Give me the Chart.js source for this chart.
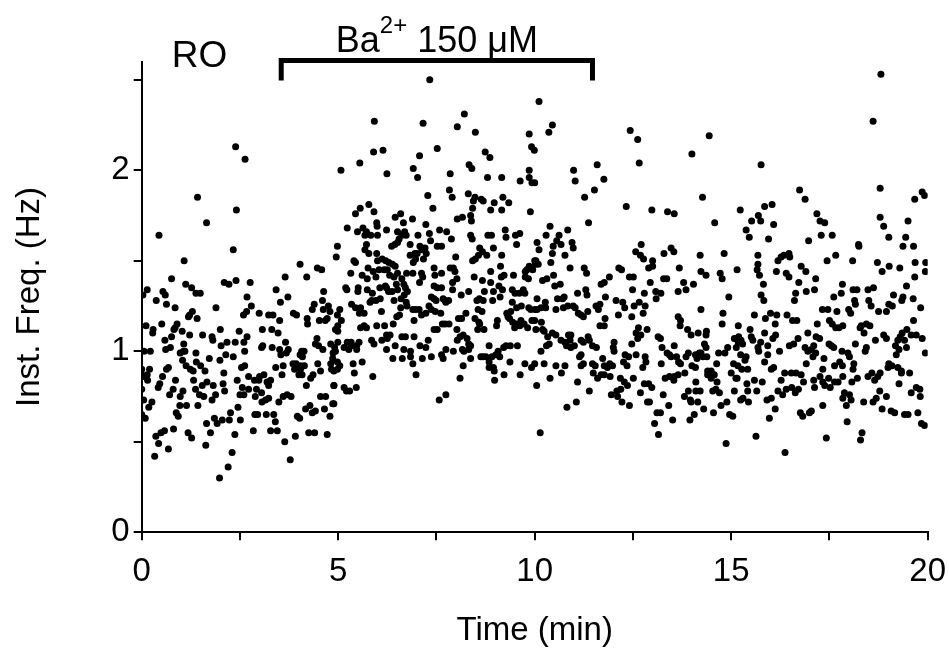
<!DOCTYPE html>
<html>
<head>
<meta charset="utf-8">
<script src="https://cdn.jsdelivr.net/npm/chart.js@4.4.1/dist/chart.umd.min.js"></script>
<style>
  html, body { margin: 0; padding: 0; background: #fff; }
  canvas { display: block; }
</style>
</head>
<body>
<canvas id="chart" width="949" height="651"></canvas>
<script>
// Spike instantaneous frequency (Hz) against time (min)
// in four 5-min windows. Each entry is [time, freq].
const min0to5 = [
  [2.39,2.13],[2.63,2.06],[1.42,1.85],[2.41,1.78],
  [1.65,1.71],[0.44,1.64],[2.33,1.56],[1.08,1.50],[0.76,1.40],[1.12,1.37],[1.27,1.35],[1.38,1.32],[1.49,1.32],[2.10,1.38],[2.22,1.37],[2.40,1.39],[2.76,1.38],[3.65,1.41],[4.03,1.48],[4.20,1.41],[4.47,1.46],[4.58,1.45],
  [0.14,1.34],[0.03,1.31],[0.54,1.33],[0.60,1.31],[0.37,1.28],[0.63,1.26],[0.85,1.24],[1.89,1.24],[2.68,1.30],[2.79,1.25],[3.42,1.34],[3.72,1.30],[3.53,1.27],[4.63,1.33],[4.39,1.26],[4.34,1.23],[4.60,1.28],[4.62,1.23],[4.75,1.25],[4.79,1.22],[4.72,1.18],[4.67,1.17],[4.52,1.17],
  [1.29,1.22],[1.22,1.20],[1.19,1.19],[1.41,1.18],[2.59,1.20],[2.67,1.22],[2.99,1.21],[3.23,1.20],[3.34,1.20],[3.51,1.17],[3.86,1.21],[3.94,1.20],[4.21,1.18],[4.22,1.15],
  [0.11,1.14],[0.29,1.12],[0.28,1.10],[0.51,1.15],[0.90,1.15],[0.85,1.13],[0.82,1.12],[1.03,1.11],[1.22,1.09],[1.55,1.09],[1.79,1.08],[1.81,1.06],[2.00,1.12],[0.76,1.08],[0.59,1.06],[0.73,1.02],[0.61,1.01],[1.07,1.04],[1.06,1.00],[0.98,0.99],[1.10,1.00],[1.38,0.99],[1.72,0.96],[2.02,1.03],[2.14,0.98],[2.17,1.05],[2.38,1.05],[2.60,1.05],[2.68,1.08],[2.48,1.11],[2.33,0.97],[2.62,1.00],[3.07,1.12],[3.31,1.12],[3.47,1.10],[3.08,1.03],[3.05,1.02],[3.32,1.02],[3.51,1.01],[3.54,0.98],[3.68,0.99],[3.66,1.05],[3.73,1.01],[4.07,1.00],[4.13,1.00],[4.09,0.97],[4.03,0.98],[4.46,1.07],[4.42,1.04],[4.50,1.03],[4.61,1.01],[4.81,1.04],[4.87,0.99],[4.93,1.00],[4.86,0.96],
  [0.06,1.00],[0.22,1.00],[0.00,0.90],[0.20,0.90],[1.39,0.94],[1.04,0.95],[1.13,0.92],[1.24,0.90],[1.31,0.89],[1.50,0.92],[1.61,0.89],[0.68,0.91],[0.63,0.90],[2.62,0.92],[2.54,0.91],[1.99,0.95],[3.41,0.91],[3.60,0.92],[3.85,0.93],[3.93,0.93],[3.95,0.91],[3.89,0.90],[4.04,0.90],[4.14,0.92],[4.05,0.92],[4.48,0.93],[4.55,0.89],[4.81,0.93],[4.83,0.90],
  [2.09,0.88],[0.00,0.87],[0.14,0.87],[0.15,0.84],[0.05,0.86],[0.53,0.86],[0.86,0.84],[1.32,0.84],[1.37,0.79],[1.54,0.81],[1.66,0.83],[1.82,0.81],[0.00,0.79],[0.42,0.80],[0.46,0.82],[0.80,0.79],[0.71,0.76],[0.98,0.75],[1.05,0.78],[1.47,0.76],[1.58,0.75],[1.88,0.76],[1.79,0.73],[2.07,0.82],[2.11,0.78],[2.43,0.84],[2.56,0.80],[2.50,0.76],[2.60,0.76],[2.72,0.86],[2.87,0.84],[2.98,0.84],[3.11,0.87],[3.00,0.86],[2.72,0.79],[2.92,0.79],[3.05,0.77],[2.89,0.75],[3.06,0.72],[3.15,0.73],[3.23,0.74],[3.19,0.83],[3.28,0.84],[3.23,0.81],[3.57,0.87],[3.49,0.72],[3.60,0.75],[3.70,0.76],[3.80,0.75],[4.00,0.87],[4.08,0.87],[4.36,0.87],[4.19,0.81],[4.30,0.85],[4.55,0.75],[4.68,0.75],[4.89,0.81],
  [0.05,0.73],[0.26,0.72],[0.18,0.69],[0.00,0.65],[0.09,0.63],[0.97,0.70],[1.14,0.70],[1.43,0.70],[0.88,0.66],[0.93,0.64],[1.65,0.60],[1.75,0.55],[1.85,0.63],[1.92,0.60],[2.05,0.62],[2.26,0.66],[2.23,0.62],[2.45,0.69],[2.51,0.62],[2.37,0.54],[2.30,0.44],[2.20,0.36],[1.98,0.30],[1.63,0.48],[1.27,0.52],[1.18,0.55],[0.81,0.57],[0.58,0.56],[0.49,0.55],[0.36,0.53],[0.43,0.49],[0.68,0.46],[0.33,0.42],[2.84,0.56],[2.88,0.65],[2.95,0.65],[3.17,0.65],[3.36,0.65],[3.40,0.61],[3.45,0.56],[3.28,0.56],[3.64,0.50],[3.91,0.53],[3.78,0.40],[3.96,0.64],[4.02,0.63],[4.17,0.68],[4.28,0.70],[4.42,0.67],[4.34,0.66],[4.25,0.55],[4.40,0.55],[4.65,0.68],[4.79,0.64],[4.86,0.71],[4.72,0.54]
];

const min5to10 = [
  [7.33,2.50],[5.92,2.27],[7.16,2.26],[8.21,2.31],[8.03,2.24],[8.49,2.21],[9.86,2.20],[9.92,2.13],[9.99,2.11],[7.52,2.12],[7.07,2.08],[5.90,2.10],[6.14,2.11],[5.55,2.04],[5.07,2.00],[6.24,1.98],[6.91,2.01],[7.02,1.96],[7.85,1.98],[8.33,2.03],[8.40,2.01],[8.74,2.10],[8.86,2.07],[8.80,1.96],[9.16,1.96],[9.63,1.94],[9.86,2.00],[9.86,1.96],[9.93,1.93],[10.00,1.93],[7.28,1.86],[7.83,1.89],[7.90,1.85],[8.31,1.87],[8.48,1.85],[8.44,1.83],[8.64,1.84],[8.69,1.83],[8.97,1.82],[9.19,1.85],[9.34,1.82],[7.41,1.79],[5.56,1.79],[5.78,1.81],[5.91,1.77],[5.44,1.76],[6.59,1.76],[8.42,1.79],[8.88,1.78],[9.16,1.78],[9.89,1.77],
  [6.45,1.74],[6.66,1.71],[6.89,1.73],[5.98,1.71],[5.99,1.69],[7.23,1.70],[8.16,1.74],[8.03,1.73],[8.37,1.75],[8.39,1.72],[5.23,1.68],[5.49,1.66],[5.63,1.68],[5.72,1.66],[5.68,1.64],[5.83,1.64],[6.00,1.64],[6.23,1.67],[6.51,1.66],[6.62,1.64],[6.55,1.62],[6.69,1.66],[6.73,1.64],[7.03,1.64],[7.32,1.65],[7.58,1.67],[7.76,1.66],[7.88,1.62],[8.37,1.64],[8.41,1.62],[8.81,1.64],[8.90,1.64],[9.25,1.67],[9.27,1.63],[9.51,1.64],[9.62,1.65],
  [4.98,1.58],[4.95,1.52],[5.72,1.59],[5.68,1.56],[5.78,1.54],[5.98,1.54],[6.36,1.58],[6.44,1.59],[6.51,1.60],[6.83,1.59],[7.08,1.58],[7.13,1.56],[6.95,1.54],[7.01,1.54],[7.21,1.57],[7.35,1.61],[7.52,1.58],[7.63,1.58],[7.24,1.54],[7.17,1.51],[6.97,1.51],[6.91,1.49],[6.83,1.53],[6.00,1.50],[6.12,1.51],[6.21,1.50],[6.29,1.49],[6.38,1.48],[6.45,1.47],[5.40,1.50],[5.44,1.49],[8.60,1.57],[8.67,1.55],[8.57,1.53],[8.78,1.53],[8.95,1.57],[9.16,1.53],[9.54,1.59],[7.99,1.52],[8.42,1.50],[8.49,1.51],[10.00,1.50],[10.02,1.48],[9.86,1.47],[9.80,1.45],
  [5.32,1.43],[5.61,1.42],[5.76,1.46],[5.89,1.44],[5.96,1.41],[5.74,1.40],[6.04,1.45],[6.17,1.45],[6.25,1.45],[6.31,1.42],[6.42,1.41],[6.51,1.43],[6.74,1.43],[6.90,1.43],[7.12,1.43],[7.15,1.41],[7.07,1.38],[7.44,1.46],[7.46,1.42],[7.63,1.43],[7.85,1.46],[7.93,1.46],[7.97,1.44],[8.02,1.40],[7.91,1.38],[8.46,1.41],[8.67,1.39],[8.88,1.38],[8.88,1.44],[9.13,1.47],[9.15,1.41],[9.22,1.42],[9.46,1.42],[9.76,1.44],[9.76,1.41],[9.84,1.40],[9.95,1.45],
  [5.22,1.34],[5.19,1.35],[5.51,1.35],[5.50,1.33],[5.74,1.34],[5.87,1.32],[6.06,1.35],[6.20,1.36],[6.23,1.35],[6.28,1.33],[6.37,1.33],[6.51,1.34],[6.62,1.40],[6.67,1.37],[6.71,1.35],[6.76,1.33],[6.48,1.37],[7.52,1.35],[7.63,1.35],[7.44,1.36],[7.91,1.34],[8.32,1.33],[8.72,1.33],[8.95,1.33],[9.09,1.36],[9.18,1.34],[9.43,1.34],[9.50,1.32],[9.61,1.32],[9.71,1.34],[9.75,1.32],
  [5.34,1.26],[5.44,1.24],[5.57,1.24],[5.85,1.28],[5.96,1.28],[5.81,1.27],[6.07,1.29],[6.42,1.28],[6.60,1.29],[6.68,1.31],[6.73,1.27],[6.75,1.25],[6.59,1.24],[7.37,1.30],[7.44,1.29],[7.49,1.28],[7.67,1.29],[7.72,1.28],[7.74,1.27],[7.81,1.28],[8.13,1.31],[8.53,1.28],[8.59,1.29],[8.69,1.28],[8.56,1.23],[8.66,1.22],[8.93,1.28],[9.12,1.30],[9.43,1.27],[9.66,1.25],[9.85,1.24],[9.54,1.24],[9.39,1.22],[9.29,1.21],[9.90,1.23],[10.01,1.23],
  [5.04,1.23],[4.98,1.20],[5.08,1.17],[5.54,1.21],[5.66,1.21],[6.10,1.22],[6.56,1.20],[6.49,1.19],[6.90,1.23],[6.97,1.23],[7.06,1.23],[7.12,1.20],[7.23,1.21],[7.31,1.25],[7.37,1.23],[7.47,1.22],[7.61,1.21],[8.06,1.18],[8.14,1.18],[8.25,1.21],[8.48,1.18],[8.58,1.16],[8.60,1.15],[9.05,1.17],[9.32,1.19],[9.36,1.18],[9.44,1.16],[9.54,1.15],[9.65,1.17],[9.73,1.15],[9.93,1.17],
  [4.99,1.14],[4.93,1.12],[4.99,1.11],[5.57,1.13],[5.66,1.14],[5.72,1.13],[5.98,1.14],[6.18,1.14],[6.40,1.15],[6.93,1.17],[7.65,1.15],[7.72,1.15],[7.82,1.15],[7.44,1.12],[7.52,1.12],[8.02,1.12],[8.10,1.08],[8.03,1.06],[8.18,1.09],[8.28,1.07],[8.32,1.04],[8.37,1.03],[8.32,1.01],[8.55,1.12],[8.71,1.12],[9.03,1.14],[9.49,1.13],[9.62,1.14],[9.82,1.13],[10.03,1.12],
  [4.91,1.02],[4.99,1.05],[5.23,1.05],[5.33,1.05],[5.15,1.02],[5.33,1.03],[5.47,1.03],[5.53,1.05],[5.27,1.01],[5.47,1.01],[5.85,1.06],[5.91,1.04],[6.11,1.06],[6.23,1.09],[6.25,1.07],[6.32,1.09],[6.62,1.08],[6.71,1.08],[6.93,1.08],[6.45,1.03],[6.67,1.01],[6.23,1.01],[6.84,1.00],[7.08,1.03],[7.23,1.02],[7.29,1.06],[7.37,0.97],[7.74,1.01],[7.93,1.00],[8.16,1.01],[8.20,1.00],[8.84,1.03],[9.21,1.02],[9.27,1.03],[9.38,1.03],[9.56,1.03],[9.07,1.00],[9.01,0.98],[9.11,0.97],[9.37,0.94],
  [8.63,0.97],[8.69,0.97],[8.76,0.97],[8.91,0.97],[8.84,0.94],[8.95,0.91],[8.84,0.91],[8.97,0.89],[4.98,0.94],[5.04,0.92],[4.98,0.90],[5.38,0.93],[5.61,0.94],[6.39,0.96],[6.63,0.96],[6.84,0.97],[6.90,0.93],[7.14,0.96],[7.63,0.98],[7.67,0.96],[8.18,0.92],[9.75,0.93],[9.92,0.91],[10.00,0.93],[8.37,0.96],
  [4.89,0.89],[5.41,0.88],[5.88,0.86],[6.98,0.87],[8.10,0.85],[9.22,0.87],[9.63,0.87],[4.89,0.81],[5.15,0.80],[5.21,0.78],[5.29,0.78],[5.46,0.80],[4.89,0.71],[8.98,0.84],[7.57,0.73],[7.74,0.76]
];

const min10to15 = [
  [10.11,2.38],[10.45,2.25],[10.36,2.21],[12.43,2.22],[12.62,2.17],[12.66,2.04],[11.59,2.03],[10.99,2.00],[11.03,1.94],[11.76,1.95],[11.52,1.89],[11.27,1.85],[12.33,1.80],[12.98,1.78],[13.38,1.77],[13.55,1.76],[14.00,2.09],[14.44,2.19],[14.27,1.85],
  [11.37,1.71],[14.58,1.71],[10.39,1.69],[10.84,1.67],[10.29,1.64],[10.62,1.64],[10.56,1.61],[10.47,1.58],[10.67,1.59],[10.95,1.60],[10.98,1.57],[10.77,1.53],[10.06,1.60],[10.11,1.56],[10.45,1.54],[10.03,1.50],[10.09,1.48],[10.41,1.49],
  [12.71,1.59],[12.57,1.55],[12.69,1.53],[12.77,1.51],[13.00,1.50],[12.90,1.46],[13.00,1.47],[13.29,1.54],[13.47,1.57],[13.54,1.55],[13.68,1.46],[14.21,1.53],[14.82,1.54],[14.23,1.44],[14.36,1.42],[14.72,1.43],[14.77,1.40],
  [10.90,1.46],[11.26,1.46],[11.32,1.43],[12.14,1.46],[12.21,1.45],[10.48,1.42],[10.20,1.39],[10.31,1.40],[10.51,1.36],[10.65,1.37],[11.90,1.41],[11.69,1.37],[11.77,1.38],[12.41,1.41],[12.51,1.41],[12.94,1.38],[13.28,1.40],[13.36,1.40],[13.79,1.38],[14.04,1.37],[13.65,1.33],[13.85,1.34],
  [11.09,1.32],[11.30,1.34],[11.33,1.31],[12.49,1.34],[12.79,1.32],[13.08,1.33],[13.21,1.32],[13.09,1.29],[14.94,1.30],[10.06,1.29],[10.27,1.27],[10.58,1.29],[10.71,1.29],[10.75,1.30],[10.73,1.24],[10.84,1.25],[10.98,1.25],[11.03,1.24],[10.06,1.23],[10.16,1.24],[10.28,1.24],
  [11.80,1.30],[11.56,1.25],[11.66,1.26],[11.62,1.23],[12.07,1.28],[12.24,1.27],[12.29,1.24],[12.53,1.25],[12.66,1.27],[12.81,1.25],[11.35,1.22],[14.23,1.23],[14.79,1.21],[11.11,1.21],[11.24,1.19],[11.18,1.20],[10.54,1.23],[10.17,1.16],[10.00,1.17],
  [11.79,1.18],[11.66,1.14],[11.77,1.14],[12.13,1.20],[12.47,1.19],[12.76,1.21],[13.65,1.19],[13.71,1.17],[13.70,1.14],[13.89,1.12],[13.98,1.09],[14.16,1.10],[14.37,1.11],[14.36,1.09],[14.77,1.15],[15.08,1.07],
  [12.64,1.13],[12.58,1.10],[12.70,1.09],[12.62,1.07],[12.86,1.12],[10.20,1.12],[10.33,1.08],[10.24,1.11],[10.45,1.10],[10.54,1.09],[10.67,1.06],[10.77,1.05],[10.86,1.09],[10.92,1.09],[10.90,1.06],[11.01,1.03],[10.92,1.02],[10.81,1.03],[11.18,1.06],[11.24,1.05],[11.36,1.08],[11.39,1.06],[11.57,1.02],[11.47,1.03],[12.02,1.05],[12.00,1.02],[12.02,1.00],[10.37,1.04],[10.30,1.03],[10.16,1.00],
  [12.47,1.04],[13.14,1.08],[13.20,1.07],[13.24,1.02],[13.55,1.03],[13.37,0.99],[13.43,0.98],[13.47,0.97],[13.61,0.97],[13.85,0.97],[13.66,0.94],[13.71,0.93],[14.32,1.04],[14.36,1.02],[14.23,0.99],[14.28,0.97],[14.38,0.97],[14.68,0.99],[14.84,0.99],[14.91,1.02],
  [11.14,0.97],[11.18,0.98],[11.24,0.93],[11.18,0.92],[10.54,0.92],[10.77,0.92],[10.24,0.93],[11.47,0.93],[11.54,0.92],[11.73,0.96],[11.77,0.92],[11.85,0.91],[11.98,0.92],[11.91,0.93],[12.30,0.98],[12.39,0.97],[12.26,0.94],[12.35,0.92],[12.58,0.98],[12.81,0.97],[12.83,0.94],[12.75,0.91],[13.22,0.93],[13.91,0.99],[14.09,0.98],[14.13,0.96],[14.19,0.99],[14.00,0.92],[14.09,0.91],[14.63,0.93],[14.40,0.89],[14.49,0.89],[15.06,0.93],
  [10.68,0.88],[11.49,0.88],[11.69,0.87],[11.77,0.87],[11.60,0.85],[11.92,0.86],[10.05,0.81],[10.39,0.85],[11.09,0.83],[11.39,0.78],[10.82,0.69],[11.06,0.72],[10.14,0.55],
  [12.18,0.85],[12.28,0.83],[12.36,0.81],[12.19,0.79],[12.09,0.78],[11.95,0.76],[12.11,0.75],[12.22,0.72],[12.41,0.70],[12.51,0.85],[12.79,0.82],[12.90,0.82],[12.98,0.80],[12.69,0.77],[12.92,0.72],[12.87,0.72],[13.27,0.76],[13.32,0.85],[13.43,0.86],[13.55,0.86],[13.65,0.87],[13.54,0.84],
  [13.11,0.66],[13.20,0.66],[13.05,0.60],[13.15,0.54],[13.41,0.70],[13.51,0.62],[13.82,0.88],[13.81,0.75],[13.91,0.78],[13.96,0.73],[13.98,0.72],[14.10,0.83],[14.10,0.78],[14.21,0.78],[14.15,0.72],[13.95,0.62],[14.06,0.65],[14.30,0.68],
  [14.40,0.87],[14.49,0.85],[14.57,0.87],[14.64,0.83],[14.53,0.78],[14.61,0.79],[14.70,0.77],[14.55,0.66],[14.74,0.70],[14.89,0.72],[14.96,0.65],[15.04,0.64],[14.87,0.49],[15.00,0.88],[15.08,0.78],[15.12,0.85]
];

const min15to20 = [
  [18.81,2.53],[18.61,2.27],[15.76,2.03],[15.23,1.78],[15.85,1.80],[16.04,1.81],[16.74,1.89],[16.88,1.84],[18.79,1.90],[19.67,1.84],[19.86,1.88],[19.92,1.86],
  [17.18,1.76],[15.69,1.75],[15.75,1.72],[15.52,1.72],[18.79,1.74],[17.26,1.72],[17.38,1.71],[19.50,1.72],[16.08,1.70],[18.88,1.69],[15.38,1.67],[15.46,1.63],[15.95,1.62],[16.97,1.61],[17.29,1.64],[17.57,1.64],[19.01,1.63],[19.44,1.63],[18.24,1.59],[18.25,1.58],[19.37,1.58],[19.64,1.58],
  [15.68,1.53],[16.19,1.50],[16.27,1.52],[16.34,1.53],[16.47,1.54],[16.49,1.52],[17.66,1.53],[17.44,1.50],[18.09,1.50],[15.15,1.45],[15.68,1.48],[15.66,1.45],[16.15,1.44],[16.40,1.43],[16.47,1.41],[16.78,1.47],[16.90,1.44],[18.72,1.49],[18.84,1.44],[19.02,1.47],[19.29,1.46],[19.68,1.49],[19.95,1.49],[19.94,1.44],[19.67,1.41],
  [15.72,1.42],[15.82,1.37],[16.72,1.38],[17.15,1.40],[17.12,1.34],[17.83,1.37],[18.10,1.34],[18.20,1.34],[18.48,1.34],[18.62,1.35],[19.46,1.36],[15.76,1.31],[15.83,1.28],[16.64,1.32],[16.61,1.28],[16.91,1.33],[17.61,1.30],[17.80,1.32],[18.14,1.28],[18.16,1.26],[18.50,1.28],[18.56,1.25],[19.13,1.31],[19.01,1.26],[19.10,1.25],[19.37,1.30],[19.34,1.28],[19.63,1.29],[19.82,1.24],
  [17.32,1.23],[17.46,1.23],[17.69,1.22],[17.99,1.23],[18.04,1.21],[18.75,1.22],[18.95,1.22],[16.00,1.21],[16.16,1.20],[15.87,1.18],[15.59,1.20],[16.42,1.20],[16.56,1.17],[16.67,1.17],[16.12,1.15],[17.19,1.15],[17.50,1.17],[17.57,1.15],[17.66,1.13],[17.84,1.14],[17.74,1.13],
  [18.31,1.14],[18.28,1.13],[18.44,1.15],[18.53,1.14],[18.38,1.10],[19.64,1.17],[19.47,1.12],[19.58,1.09],[19.71,1.09],[19.86,1.07],[15.18,1.14],[15.48,1.12],[15.19,1.08],[15.25,1.06],[15.29,1.04],[15.18,1.05],[15.13,1.02],[15.51,1.08],[15.55,1.06],[15.85,1.10],[16.13,1.09],[16.06,1.07],[15.75,1.05],[15.93,1.03],[15.70,1.00],[15.68,1.02],[15.93,0.98],[15.38,0.97],[15.35,0.95],[15.24,0.98],[15.17,0.92],[15.85,0.94],
  [16.23,1.00],[16.48,1.03],[16.59,1.04],[16.70,1.07],[16.95,1.10],[17.16,1.08],[17.25,1.07],[16.88,1.02],[16.95,1.00],[17.04,1.01],[17.10,1.03],[17.08,0.97],[17.15,0.99],[17.36,0.96],[17.49,1.04],[17.55,1.03],[17.61,1.02],[17.82,1.00],[17.97,0.99],[18.01,0.97],[17.63,0.92],[17.76,0.94],[17.83,0.92],
  [18.16,1.04],[18.44,1.02],[18.41,1.00],[18.67,1.06],[18.88,1.09],[18.95,1.07],[19.18,1.03],[19.24,1.06],[19.30,1.08],[19.35,1.10],[19.27,1.01],[19.20,0.98],[19.41,1.06],[19.46,1.02],[19.94,0.99],[19.01,0.93],[19.09,0.92],[18.99,0.91],[19.24,0.91],[19.33,0.89],[18.12,0.93],[18.10,0.90],[17.33,0.90],[16.91,0.93],[16.08,0.91],[16.02,0.90],[15.42,0.90],[15.27,0.90],
  [15.15,0.85],[15.40,0.82],[15.42,0.78],[15.30,0.74],[15.24,0.73],[15.44,0.72],[15.59,0.84],[15.65,0.78],[15.79,0.83],[15.91,0.73],[16.02,0.74],[16.12,0.68],[15.97,0.63],[15.63,0.53],[16.37,0.44],
  [16.36,0.88],[16.53,0.88],[16.65,0.88],[16.78,0.87],[16.27,0.84],[16.19,0.78],[16.31,0.76],[16.40,0.79],[16.54,0.80],[16.63,0.77],[16.71,0.79],[16.84,0.83],[16.76,0.66],[16.82,0.64],[16.99,0.66],[17.04,0.67],
  [17.10,0.84],[17.26,0.86],[17.33,0.83],[17.38,0.81],[17.48,0.85],[17.52,0.80],[17.63,0.83],[17.72,0.83],[17.84,0.86],[17.12,0.80],[17.33,0.70],[17.42,0.52],[17.84,0.74],[17.88,0.77],[18.01,0.76],[18.05,0.73],[17.93,0.70],[17.95,0.61],[18.07,0.83],[18.21,0.85],[18.37,0.72],[18.33,0.55],[18.29,0.51],
  [18.48,0.86],[18.58,0.88],[18.65,0.84],[18.73,0.86],[18.79,0.88],[18.61,0.72],[18.69,0.74],[18.78,0.78],[18.95,0.75],[18.84,0.68],[19.07,0.67],[19.16,0.66],[19.27,0.82],[19.33,0.88],[19.54,0.88],[19.58,0.77],[19.71,0.80],[19.80,0.79],[19.81,0.75],[19.41,0.65],[19.50,0.65],[19.75,0.66],[19.84,0.60],[19.92,0.59]
];

// Axis layout
const timeMin = 0, timeMax = 20, timeStep = 2.5;
const freqMin = 0, freqMax = 2.6, freqStep = 0.5;

// Ba2+ application bar (min) and its vertical extent (Hz)
const stimStart = 3.55, stimEnd = 11.47;
const barLevel = 2.606, barLegEnd = 2.495;

const FONT = "'Liberation Sans', Arial, Helvetica, sans-serif";
const points = [...min0to5, ...min5to10, ...min10to15, ...min15to20].map(([t, f]) => ({ x: t, y: f }));

const annotate = {
  id: "annotate",
  afterDraw(chart) {
    const { ctx, scales: { x, y } } = chart;
    const x0 = x.getPixelForValue(stimStart);
    const x1 = x.getPixelForValue(stimEnd);
    const yBar = y.getPixelForValue(barLevel);
    const yLeg = y.getPixelForValue(barLegEnd);
    ctx.save();
    ctx.strokeStyle = "#000";
    ctx.lineWidth = 5;
    ctx.lineJoin = "miter";
    ctx.lineCap = "butt";
    ctx.beginPath();
    ctx.moveTo(x0, yLeg);
    ctx.lineTo(x0, yBar);
    ctx.lineTo(x1, yBar);
    ctx.lineTo(x1, yLeg);
    ctx.stroke();

    // "Ba2+ 150 μM" centred over the bar
    ctx.fillStyle = "#000";
    ctx.textBaseline = "alphabetic";
    ctx.textAlign = "left";
    const big = `36px ${FONT}`, small = `24px ${FONT}`;
    ctx.font = big;
    const wBa = ctx.measureText("Ba").width;
    const wRest = ctx.measureText(" 150 μM").width;
    ctx.font = small;
    const wSup = ctx.measureText("2+").width;
    let tx = (x0 + x1) / 2 - (wBa + wSup + wRest) / 2;
    const base = yBar - 8.5;
    ctx.font = big;
    ctx.fillText("Ba", tx, base);
    tx += wBa;
    ctx.font = small;
    ctx.fillText("2+", tx, base - 19);
    tx += wSup;
    ctx.font = big;
    ctx.fillText(" 150 μM", tx, base);

    // cell label
    ctx.font = `37px ${FONT}`;
    ctx.fillText("RO", chart.chartArea.left + 30, yBar + 6.5);
    ctx.restore();
  },
};

new Chart(document.getElementById("chart"), {
  type: "scatter",
  data: {
    datasets: [
      {
        data: points,
        backgroundColor: "#000",
        borderWidth: 0,
        pointRadius: 3.5,
        pointHoverRadius: 3.5,
      },
    ],
  },
  options: {
    responsive: false,
    animation: false,
    events: [],
    layout: { padding: { top: 61.6, right: 21.3, left: 0, bottom: 0 } },
    plugins: { legend: { display: false }, tooltip: { enabled: false } },
    scales: {
      x: {
        type: "linear",
        min: timeMin,
        max: timeMax,
        afterFit: (scale) => {
          scale.height = 118.8;
          scale.paddingLeft = 0;
          scale.paddingRight = 0;
        },
        ticks: {
          stepSize: timeStep,
          autoSkip: false,
          maxRotation: 0,
          includeBounds: false,
          color: "#000",
          padding: 12,
          font: { family: FONT, size: 33 },
          callback: (v) => (v % 5 === 0 ? String(v) : ""),
        },
        grid: { drawOnChartArea: false, tickLength: 8, color: "#000", lineWidth: 2 },
        border: { color: "#000", width: 2 },
        title: {
          display: true,
          text: "Time (min)",
          color: "#000",
          font: { family: FONT, size: 33 },
          padding: { top: 0, bottom: 0 },
        },
      },
      y: {
        type: "linear",
        min: freqMin,
        max: freqMax,
        afterFit: (scale) => {
          scale.width = 141.7;
          scale.paddingTop = 0;
          scale.paddingBottom = 0;
        },
        ticks: {
          stepSize: freqStep,
          autoSkip: false,
          includeBounds: false,
          color: "#000",
          padding: 4,
          font: { family: FONT, size: 33 },
          callback: (v) => (Number.isInteger(v) ? String(v) : ""),
        },
        grid: { drawOnChartArea: false, tickLength: 8, color: "#000", lineWidth: 2 },
        border: { color: "#000", width: 2 },
        title: {
          display: true,
          text: "Inst. Freq. (Hz)",
          color: "#000",
          font: { family: FONT, size: 33 },
          padding: { top: 10, bottom: 0 },
        },
      },
    },
  },
  plugins: [annotate],
});
</script>
</body>
</html>
